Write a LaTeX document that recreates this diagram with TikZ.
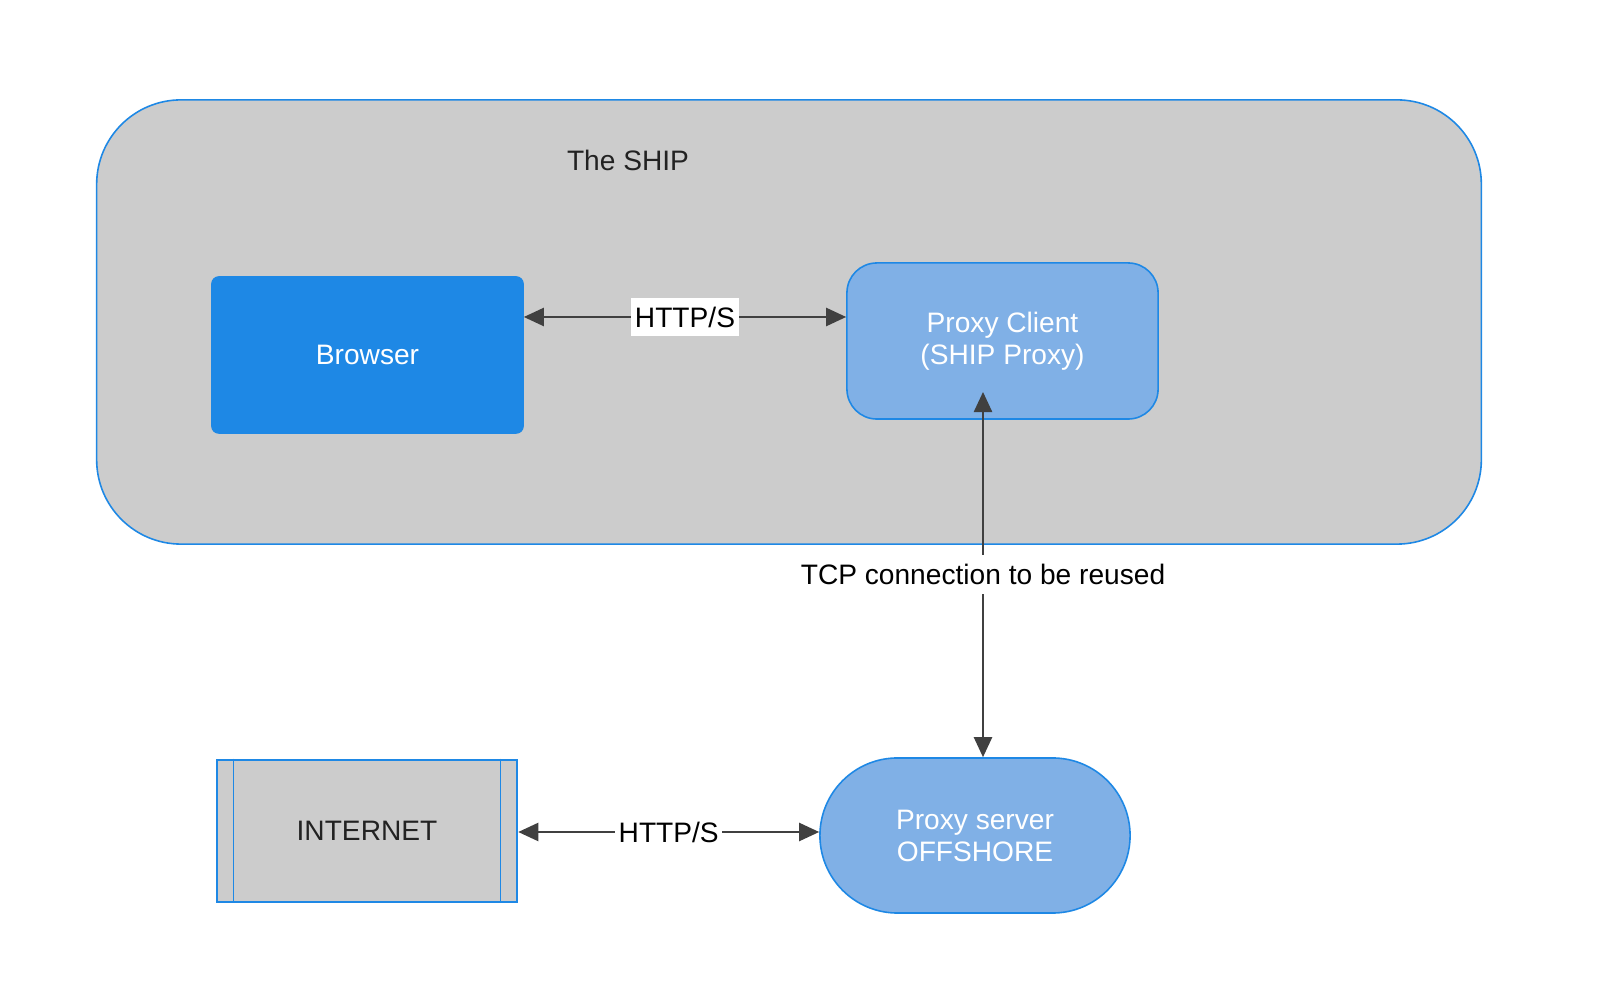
\documentclass[tikz,border=0pt]{standalone}
\usepackage{fontspec}
\setmainfont{Liberation Sans}
\usetikzlibrary{arrows.meta,shapes.misc,calc}
\definecolor{shipgray}{HTML}{CCCCCC}
\definecolor{edgeblue}{HTML}{1E88E5}
\definecolor{lightblue}{HTML}{80B0E6}
\definecolor{arrowgray}{HTML}{404040}
\definecolor{textdark}{HTML}{222222}
\begin{document}
\begin{tikzpicture}[x=0.01cm, y=-0.01cm,
        every node/.style={font=\fontsize{8}{9.1}\selectfont, inner sep=0pt, align=center},
        bluebox/.style={draw=edgeblue, line width=0.45pt, minimum width=311*0.2845pt, minimum height=156*0.2845pt, text=white},
        link/.style={draw=arrowgray, line width=0.45pt, {Triangle[length=5.7pt, width=5.2pt]}-{Triangle[length=5.7pt, width=5.2pt]}},
        lbl/.style={fill=white, text=black, inner xsep=1pt, inner ysep=2.5pt}]
    \useasboundingbox (0, 0) rectangle (1600, 989);
    \fill[white] (0, 0) rectangle (1600, 989);
    % the ship
    \node[draw=edgeblue, fill=shipgray, line width=0.45pt, rounded corners=24pt, minimum width=1384*0.2845pt, minimum height=444*0.2845pt] (ship) at (789, 322) {};
    \node[text=textdark] (shiplbl) at (628, 160) {The SHIP};
    \node[bluebox, fill=edgeblue, rounded corners=2pt] (browser) at (367.5, 355) {Browser};
    \node[bluebox, fill=lightblue, rounded corners=8.5pt] (client) at (1002.5, 341) {Proxy Client\\(SHIP Proxy)};
    % offshore
    \node[draw=edgeblue, fill=shipgray, line width=0.7pt, minimum width=300*0.2845pt, minimum height=142*0.2845pt, text=textdark] (inet) at (367, 831) {INTERNET};
    \draw[edgeblue, line width=0.45pt] ($(inet.north west)+(18, 0)$) -- ($(inet.south west)+(18, 0)$);
    \draw[edgeblue, line width=0.45pt] ($(inet.north east)+(-18, 0)$) -- ($(inet.south east)+(-18, 0)$);
    \node[bluebox, fill=lightblue, shape=rounded rectangle, minimum width=310*0.2845pt, minimum height=155*0.2845pt] (server) at (975, 835.5) {Proxy server\\OFFSHORE};
    \coordinate (clienttip) at (983, 392);
    % connections
    \draw[link] (browser.east |- 0, 317) -- node[lbl] {HTTP/S} (client.west |- 0, 317);
    \draw[link] (clienttip) -- node[lbl] {TCP connection to be reused} (server.north -| clienttip);
    \draw[link] (inet.east |- 0, 832) -- node[lbl, inner ysep=1pt] {HTTP/S} (server.west |- 0, 832);
\end{tikzpicture}
\end{document}
